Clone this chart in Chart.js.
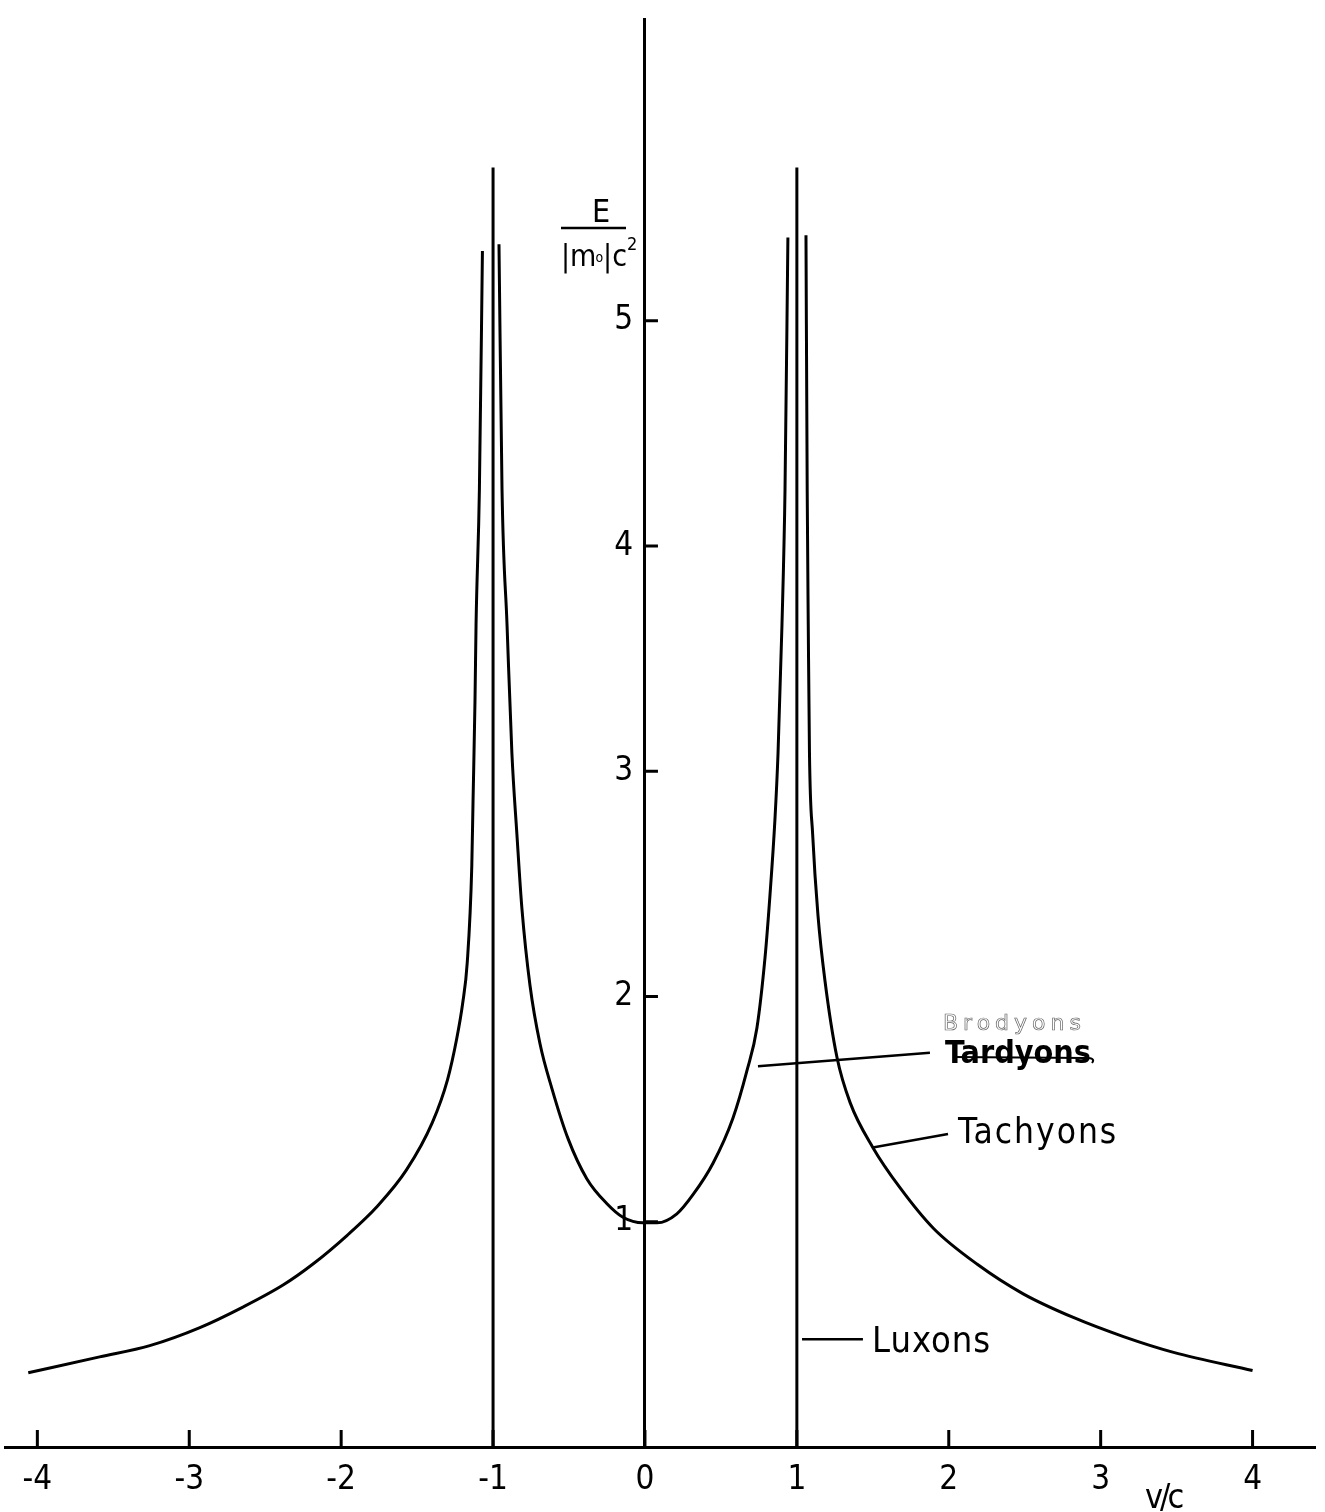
<!DOCTYPE html>
<html>
<head>
<meta charset="utf-8">
<script src="https://cdn.jsdelivr.net/npm/chart.js@4.4.0/dist/chart.umd.min.js"></script>
<style>
  html, body { margin: 0; padding: 0; background: #fff; }
  #wrap { width: 1325px; height: 1512px; }
</style>
</head>
<body>
<div id="wrap"><canvas id="grafico" width="1325" height="1512"></canvas></div>
<script>
// valores (v/c , E/|m0|c^2)
const tachyonLeftV = [-4.06, -3.59, -3.26, -2.93, -2.65, -2.38, -2.19, -1.96, -1.76, -1.57, -1.40, -1.30, -1.24, -1.20, -1.17, -1.14, -1.132, -1.119, -1.112, -1.09, -1.07]
const tachyonLeftE = [0.33, 0.40, 0.45, 0.53, 0.62, 0.72, 0.81, 0.94, 1.07, 1.23, 1.44, 1.63, 1.81, 1.97, 2.15, 2.58, 2.86, 3.31, 3.65, 4.25, 5.31]

const tardyonV = [-0.961, -0.941, -0.908, -0.876, -0.843, -0.81, -0.757, -0.691, -0.612, -0.507, -0.382, -0.25, -0.145, -0.013, 0.08, 0.21, 0.316, 0.448, 0.579, 0.671, 0.737, 0.79, 0.823, 0.856, 0.876, 0.902, 0.922, 0.941]
const tardyonE = [5.34, 4.25, 3.65, 3.08, 2.72, 2.39, 2.05, 1.79, 1.59, 1.37, 1.19, 1.08, 1.02, 0.995, 0.995, 1.035, 1.12, 1.26, 1.46, 1.67, 1.86, 2.17, 2.45, 2.79, 3.08, 3.65, 4.25, 5.37]

const tachyonRightV = [1.06, 1.068, 1.075, 1.083, 1.104, 1.139, 1.185, 1.264, 1.35, 1.50, 1.68, 1.90, 2.19, 2.49, 2.82, 3.15, 3.48, 4.0]
const tachyonRightE = [5.38, 4.25, 3.65, 3.08, 2.72, 2.36, 2.07, 1.73, 1.53, 1.33, 1.15, 0.97, 0.81, 0.68, 0.575, 0.49, 0.42, 0.34]

const luxonV = [-1, 1]
const luxonTop = 5.68

const xTicks = [-4, -3, -2, -1, 0, 1, 2, 3, 4]
const yTicks = [1, 2, 3, 4, 5]

const fuente = "'Liberation Sans Narrow', 'DejaVu Sans Condensed', 'Liberation Sans', sans-serif"

function puntos(xs, ys) {
    return xs.map((x, i) => ({ x: x, y: ys[i] }))
}

function curva(data) {
    return {
        data: data,
        showLine: true,
        borderColor: '#000',
        borderWidth: 3,
        pointRadius: 0,
        cubicInterpolationMode: 'monotone',
    }
}

// marcas, lineas y textos sobre el grafico
const anotaciones = {
    id: 'anotaciones',
    afterDraw(chart) {
        const ctx = chart.ctx
        const sx = chart.scales.x
        const sy = chart.scales.y
        const x0 = sx.getPixelForValue(0)
        const y0 = sy.getPixelForValue(0)
        ctx.save()
        ctx.strokeStyle = '#000'
        ctx.fillStyle = '#000'
        ctx.lineWidth = 3
        ctx.beginPath()
        xTicks.forEach(v => {
            const px = sx.getPixelForValue(v)
            ctx.moveTo(px, y0)
            ctx.lineTo(px, y0 - 17)
        })
        yTicks.forEach(v => {
            const py = sy.getPixelForValue(v)
            ctx.moveTo(x0, py)
            ctx.lineTo(x0 + 13, py)
        })
        ctx.stroke()

        const linea = (a, b, c, d) => {
            ctx.beginPath()
            ctx.moveTo(sx.getPixelForValue(a), sy.getPixelForValue(b))
            ctx.lineTo(sx.getPixelForValue(c), sy.getPixelForValue(d))
            ctx.stroke()
        }
        ctx.lineWidth = 2.5
        linea(0.744, 1.69, 1.876, 1.75)
        linea(1.50, 1.33, 1.995, 1.39)
        linea(1.034, 0.478, 1.435, 0.478)

        ctx.textBaseline = 'alphabetic'
        ctx.textAlign = 'left'

        ctx.font = `bold 32px ${fuente}`
        ctx.letterSpacing = '0px'
        ctx.fillText('Tardyons', 945, 1063)
        ctx.lineWidth = 2
        ctx.beginPath()
        ctx.moveTo(953, 1057)
        ctx.lineTo(1086, 1058)
        ctx.quadraticCurveTo(1096, 1058, 1092, 1063)
        ctx.stroke()

        ctx.font = `22px 'DejaVu Sans', sans-serif`
        ctx.letterSpacing = '5px'
        ctx.lineWidth = 0.7
        ctx.strokeStyle = '#666'
        ctx.strokeText('Brodyons', 943, 1030)
        ctx.strokeStyle = '#000'

        ctx.font = `35px ${fuente}`
        ctx.letterSpacing = '2px'
        ctx.fillText('Tachyons', 958, 1143)
        ctx.font = `36px ${fuente}`
        ctx.letterSpacing = '1px'
        ctx.fillText('Luxons', 872, 1352)

        // etiqueta del eje y
        ctx.letterSpacing = '0px'
        ctx.font = `32px ${fuente}`
        ctx.textAlign = 'center'
        ctx.fillText('E', 601, 222)
        ctx.lineWidth = 2.5
        ctx.beginPath()
        ctx.moveTo(561, 228)
        ctx.lineTo(626, 228)
        ctx.stroke()
        ctx.textAlign = 'left'
        ctx.font = `30px ${fuente}`
        let cx = 561
        ctx.fillText('|m', cx, 266)
        cx += ctx.measureText('|m').width
        ctx.font = `14px ${fuente}`
        ctx.fillText('o', cx - 1, 262)
        cx += ctx.measureText('o').width - 1
        ctx.font = `30px ${fuente}`
        ctx.fillText('|c', cx, 266)
        cx += ctx.measureText('|c').width
        ctx.font = `18px ${fuente}`
        ctx.fillText('2', cx, 250)

        // etiqueta del eje x
        ctx.font = `34px ${fuente}`
        ctx.letterSpacing = '-3px'
        ctx.fillText('v/c', 1145, 1508)
        ctx.restore()
    }
}

const chart = new Chart(document.querySelector('#grafico'), {
    type: 'scatter',
    data: {
        datasets: [
            curva(puntos(tachyonLeftV, tachyonLeftE)),
            curva(puntos(tardyonV, tardyonE)),
            curva(puntos(tachyonRightV, tachyonRightE)),
            curva(puntos([luxonV[0], luxonV[0]], [0, luxonTop])),
            curva(puntos([luxonV[1], luxonV[1]], [0, luxonTop])),
        ]
    },
    options: {
        responsive: false,
        animation: false,
        devicePixelRatio: 1,
        layout: {
            padding: { left: 5, right: 10, top: 15, bottom: 65 }
        },
        scales: {
            x: {
                type: 'linear',
                min: -4.213,
                max: 4.411,
                position: { y: 0 },
                grid: { display: false, drawTicks: false },
                border: { display: true, color: '#000', width: 3 },
                ticks: {
                    stepSize: 1,
                    includeBounds: false,
                    autoSkip: false,
                    maxRotation: 0,
                    padding: 14,
                    color: '#000',
                    font: { size: 33, family: fuente },
                    callback: (val) => xTicks.includes(val) ? String(val) : null
                }
            },
            y: {
                type: 'linear',
                min: 0,
                max: 6.336,
                position: { x: 0 },
                grid: { display: false, drawTicks: false },
                border: { display: true, color: '#000', width: 3 },
                ticks: {
                    stepSize: 1,
                    includeBounds: false,
                    autoSkip: false,
                    padding: 0,
                    color: '#000',
                    font: { size: 33, family: fuente },
                    // espacios finos para separar el numero del eje
                    callback: (val) => yTicks.includes(val) ? String(val) + '\u2009\u2009' : null
                }
            }
        },
        plugins: {
            legend: { display: false },
            tooltip: { enabled: false }
        },
        elements: {
            point: { radius: 0 },
            line: { tension: 0 }
        }
    },
    plugins: [anotaciones]
})
</script>
</body>
</html>
